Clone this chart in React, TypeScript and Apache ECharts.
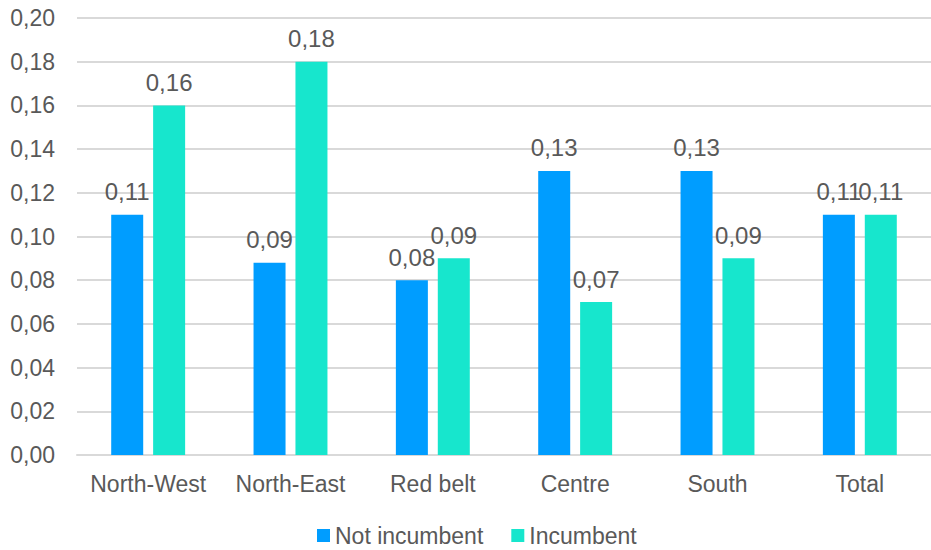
import React, { useEffect, useRef } from "react";
import * as echarts from "echarts";

const regions = ["North-West", "North-East", "Red belt", "Centre", "South", "Total"];
const notIncumbent = [0.11, 0.088, 0.08, 0.13, 0.13, 0.11];
const incumbent = [0.16, 0.18, 0.09, 0.07, 0.09, 0.11];

const TEXT = "#595959";
const FONT = "Liberation Sans, Arial, sans-serif";

const fmt = (v: number) => v.toFixed(2).replace(".", ",");

export default function App() {
  const ref = useRef<HTMLDivElement>(null);

  useEffect(() => {
    document.body.style.margin = "0";
    if (!ref.current) return;
    const chart = echarts.init(ref.current, null, { renderer: "svg" });
    const label = {
      show: true,
      position: "top" as const,
      distance: 11,
      color: TEXT,
      fontSize: 24,
      fontFamily: FONT,
      formatter: (p: any) => fmt(p.value),
    };
    chart.setOption({
      animation: false,
      textStyle: { fontFamily: FONT },
      grid: { left: 77, right: -8, top: 18, bottom: 95 },
      legend: {
        top: 524,
        left: 317,
        padding: 0,
        itemWidth: 13,
        itemHeight: 13,
        itemGap: 28,
        icon: "rect",
        textStyle: { color: TEXT, fontSize: 23, fontFamily: FONT },
      },
      xAxis: {
        type: "category",
        data: regions,
        axisTick: { show: false },
        axisLine: { lineStyle: { color: "#d9d9d9", width: 2 } },
        axisLabel: {
          color: TEXT,
          fontSize: 23,
          fontFamily: FONT,
          margin: 17,
          interval: 0,
          hideOverlap: false,
        },
      },
      yAxis: {
        type: "value",
        min: 0,
        max: 0.2,
        interval: 0.02,
        axisLine: { show: false },
        axisTick: { show: false },
        splitLine: { lineStyle: { color: "#d9d9d9", width: 2 } },
        axisLabel: {
          color: TEXT,
          fontSize: 23,
          fontFamily: FONT,
          margin: 22,
          formatter: (v: number) => fmt(v),
        },
      },
      series: [
        {
          name: "Not incumbent",
          type: "bar",
          data: notIncumbent,
          barWidth: 32,
          barGap: "31%",
          itemStyle: { color: "#009DFF" },
          label,
        },
        {
          name: "Incumbent",
          type: "bar",
          data: incumbent,
          barWidth: 32,
          itemStyle: { color: "#17E6CD" },
          label,
        },
      ],
    });
    return () => chart.dispose();
  }, []);

  return <div ref={ref} style={{ width: 931, height: 550 }} />;
}
